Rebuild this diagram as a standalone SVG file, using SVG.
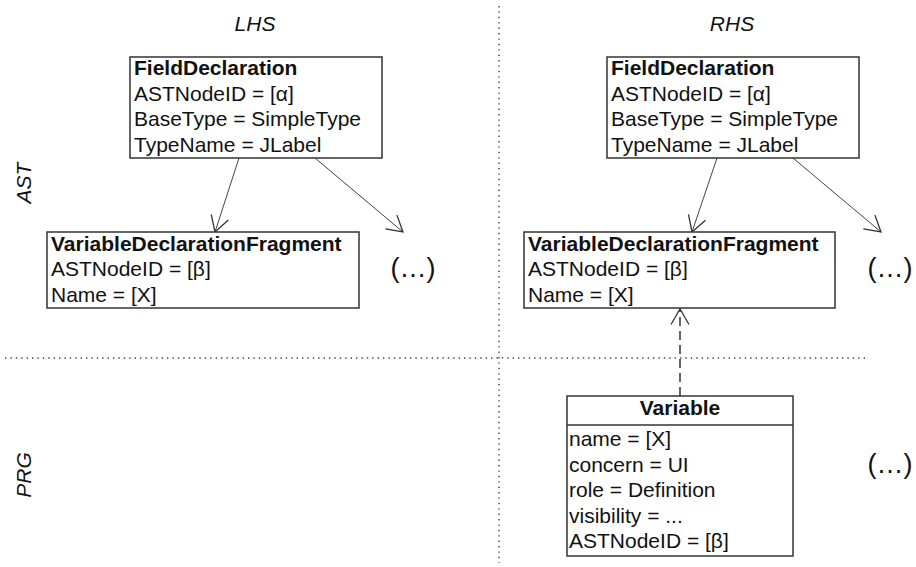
<svg xmlns="http://www.w3.org/2000/svg" width="916" height="567" viewBox="0 0 916 567">
<style>
  .t { font-family: "Liberation Sans", Arial, sans-serif; font-size: 21px; fill: #111; }
  .b { font-weight: bold; }
  .i { font-style: italic; }
  .box { fill: #fff; stroke: #333; stroke-width: 1.5; }
  .edge { fill: none; stroke: #444; stroke-width: 1; }
  .dash { fill: none; stroke: #333; stroke-width: 1.5; stroke-dasharray: 9 5; }
  .dot { fill: none; stroke: #444; stroke-width: 1.4; stroke-dasharray: 1.4 4; }
  .ell { font-family: "Liberation Sans", Arial, sans-serif; font-size: 27px; fill: #111; }
</style>
<defs>
  <marker id="open" markerUnits="userSpaceOnUse" markerWidth="20" markerHeight="20" viewBox="-17 -10 18 20" refX="0" refY="0" orient="auto">
    <path d="M -15.5 -9 L 0 0 L -15.5 9" fill="none" stroke="#333" stroke-width="1.3"/>
  </marker>
</defs>

<g id="separators">
  <line class="dot" x1="5" y1="358" x2="866" y2="358"/>
  <line class="dot" x1="499" y1="6" x2="499" y2="563"/>
</g>

<g id="labels">
  <text class="t i" x="255" y="31" text-anchor="middle">LHS</text>
  <text class="t i" x="732" y="31" text-anchor="middle">RHS</text>
  <text class="t i" transform="translate(31,183) rotate(-90)" text-anchor="middle">AST</text>
  <text class="t i" transform="translate(31,475) rotate(-90)" text-anchor="middle">PRG</text>
  <text class="ell" x="413" y="277" text-anchor="middle">(…)</text>
  <text class="ell" x="890" y="277" text-anchor="middle">(…)</text>
  <text class="ell" x="890" y="473" text-anchor="middle">(…)</text>
</g>

<g id="connectors">
  <line class="edge" x1="239" y1="158" x2="215" y2="232" marker-end="url(#open)"/>
  <line class="edge" x1="315" y1="158" x2="403" y2="232" marker-end="url(#open)"/>
  <line class="edge" x1="717" y1="158" x2="692" y2="232" marker-end="url(#open)"/>
  <line class="edge" x1="793" y1="158" x2="881" y2="232" marker-end="url(#open)"/>
  <line class="dash" x1="680" y1="396" x2="680" y2="309" marker-end="url(#open)"/>
</g>

<g id="lhs-fielddeclaration">
  <rect class="box" x="130" y="57" width="252" height="101"/>
  <text class="t b" x="134" y="75">FieldDeclaration</text>
  <text class="t" x="134" y="100.5">ASTNodeID = [α]</text>
  <text class="t" x="134" y="126">BaseType = SimpleType</text>
  <text class="t" x="134" y="151.5">TypeName = JLabel</text>
</g>

<g id="lhs-variabledeclarationfragment">
  <rect class="box" x="47" y="232" width="312" height="76"/>
  <text class="t b" x="51" y="250.5">VariableDeclarationFragment</text>
  <text class="t" x="51" y="276">ASTNodeID = [β]</text>
  <text class="t" x="51" y="301.5">Name = [X]</text>
</g>

<g id="rhs-fielddeclaration">
  <rect class="box" x="607" y="57" width="252" height="101"/>
  <text class="t b" x="611" y="75">FieldDeclaration</text>
  <text class="t" x="611" y="100.5">ASTNodeID = [α]</text>
  <text class="t" x="611" y="126">BaseType = SimpleType</text>
  <text class="t" x="611" y="151.5">TypeName = JLabel</text>
</g>

<g id="rhs-variabledeclarationfragment">
  <rect class="box" x="524" y="232" width="311" height="76"/>
  <text class="t b" x="528" y="250.5">VariableDeclarationFragment</text>
  <text class="t" x="528" y="276">ASTNodeID = [β]</text>
  <text class="t" x="528" y="301.5">Name = [X]</text>
</g>

<g id="variable">
  <rect class="box" x="567" y="396" width="226" height="160"/>
  <line x1="567" y1="425" x2="793" y2="425" stroke="#333" stroke-width="1.5"/>
  <text class="t b" x="680" y="415" text-anchor="middle">Variable</text>
  <text class="t" x="569" y="446">name = [X]</text>
  <text class="t" x="569" y="471.5">concern = UI</text>
  <text class="t" x="569" y="497">role = Definition</text>
  <text class="t" x="569" y="522.5">visibility = ...</text>
  <text class="t" x="569" y="548">ASTNodeID = [β]</text>
</g>
</svg>
